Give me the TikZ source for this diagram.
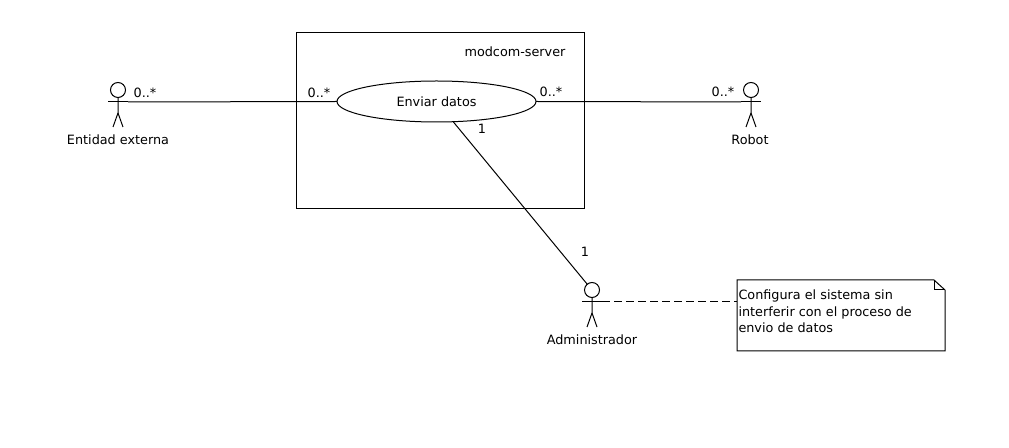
\documentclass[tikz,border=0pt]{standalone}
\usepackage{fontspec}
\setmainfont{DejaVu Sans}
\usetikzlibrary{shapes.geometric}
\tikzset{
  every node/.style={font=\fontsize{9.6}{12.4}\selectfont},
  box/.style={draw,inner sep=0,outer sep=0},
  actor/.pic={
    \node[box,circle,minimum size=11.25pt] (-head) at (0,-12) {};
    \coordinate (-armL) at (-10,0);
    \coordinate (-armR) at (10,0);
    \draw (-head) -- (0,11) -- (-5,25);
    \draw (0,11) -- (5,25);
    \draw (-armL) -- (-armR);
  }
}
\begin{document}
\begin{tikzpicture}[x=0.75pt,y=-0.75pt,line width=0.75pt]
  \useasboundingbox (0,0) rectangle (1009,448);
  \node[box,minimum width=216pt,minimum height=132pt] (server) at (440.5,120.5) {};
  \node (serverName) at (515,52) {modcom-server};
  \node[box,ellipse,minimum width=149.25pt,minimum height=30.75pt] (usecase) at (436.5,101.5) {Enviar datos};
  \pic (ent) at (118,102) {actor};
  \pic (rob) at (751,102) {actor};
  \pic (adm) at (592,302) {actor};
  \node (entName) at (118,139.5) {Entidad externa};
  \node (robName) at (750,139.5) {Robot};
  \node (admName) at (592,339.5) {Administrador};
  \draw (ent-armR) -- (usecase.west);
  \draw (usecase.east) -- (rob-armL);
  \draw (usecase) -- (adm-head);
  % multiplicities
  \node (mA) at (145,92.5) {0..*};
  \node (mB) at (319,92.5) {0..*};
  \node (mC) at (551,91.5) {0..*};
  \node (mD) at (723,91.5) {0..*};
  \node (mE) at (482,129) {1};
  \node (mF) at (585,252) {1};
  % note with folded corner
  \node[minimum width=156pt,minimum height=53.25pt,inner sep=0,outer sep=0] (note) at (841,315.5) {};
  \draw (note.north west) -- ([xshift=-8.25pt]note.north east) -- ([yshift=-7.5pt]note.north east)
    -- (note.south east) -- (note.south west) -- cycle;
  \draw ([xshift=-8.25pt]note.north east) |- ([yshift=-7.5pt]note.north east);
  \node[align=left,anchor=north west,inner sep=0] (noteText) at (738,289.5) {Configura el sistema sin\\interferir con el proceso de\\envio de datos};
  \draw[dash pattern=on 6pt off 3pt] (adm-armR) -- (adm-armR -| note.west);
\end{tikzpicture}
\end{document}
